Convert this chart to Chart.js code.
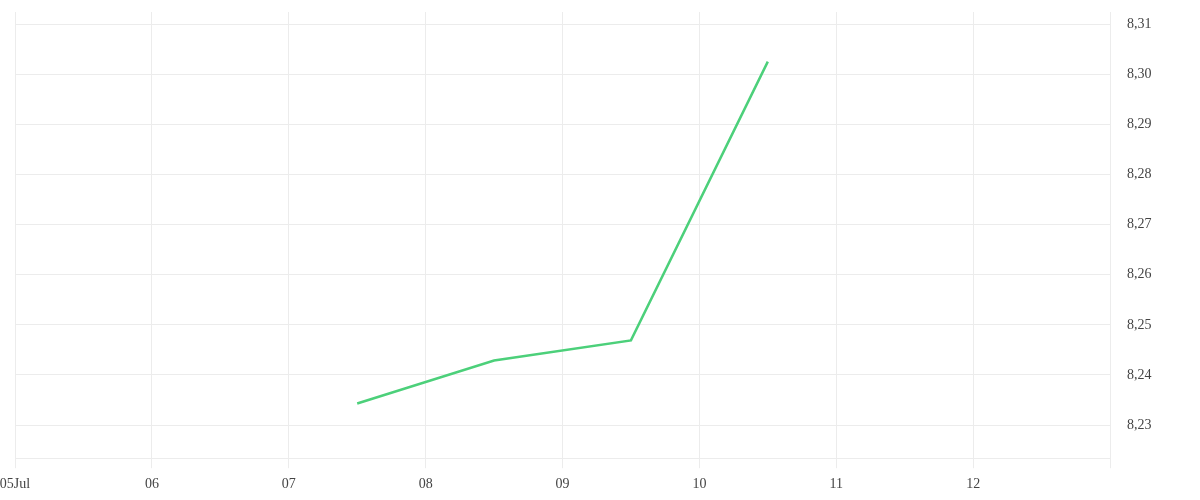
<!DOCTYPE html>
<html>
<head>
<meta charset="utf-8">
<script src="https://cdn.jsdelivr.net/npm/chart.js@4"></script>
<style>
    html, body { margin: 0; padding: 0; background: #fff; }
    #wrap { width: 1200px; height: 500px; position: relative; }
</style>
</head>
<body>
<div id="wrap"><canvas id="rateChart"></canvas></div>
<script>
// x is day of July (12:00 = .5)
const days = [7.5, 8.5, 9.5, 10.5];
const rates = [8.2343, 8.2429, 8.2469, 8.3025];
const xTicks = [5, 6, 7, 8, 9, 10, 11, 12, 13];
const xTickLabels = ['05Jul', '06', '07', '08', '09', '10', '11', '12', ''];
const yTicks = [8.23, 8.24, 8.25, 8.26, 8.27, 8.28, 8.29, 8.30, 8.31];

const gridColor = '#ececec';
const labelColor = '#444';
const font = { family: "'Liberation Serif', 'DejaVu Serif', serif", size: 14 };

document.addEventListener("DOMContentLoaded", () => {
    const ctx = document.getElementById('rateChart').getContext('2d');
    new Chart(ctx, {
        type: 'line',
        data: {
            datasets: [{
                data: days.map((d, i) => ({ x: d, y: rates[i] })),
                borderColor: 'rgb(76, 208, 122)',
                borderWidth: 2.5,
                pointRadius: 0,
                tension: 0,
                fill: false
            }]
        },
        options: {
            responsive: true,
            maintainAspectRatio: false,
            animation: false,
            layout: { padding: { top: 0, left: 0, right: 0, bottom: 0 } },
            plugins: {
                legend: { display: false },
                tooltip: { enabled: false }
            },
            scales: {
                x: {
                    type: 'linear',
                    min: 5,
                    max: 13,
                    afterBuildTicks: (scale) => {
                        scale.ticks = xTicks.map(v => ({ value: v }));
                    },
                    afterFit: (scale) => {
                        scale.paddingLeft = 15;
                        scale.height = scale.height - 1;
                    },
                    grid: { color: gridColor, tickLength: 10, drawTicks: true },
                    border: { color: gridColor },
                    ticks: {
                        color: labelColor,
                        font: font,
                        padding: 8,
                        maxRotation: 0,
                        autoSkip: false,
                        callback: (v) => xTickLabels[xTicks.indexOf(v)]
                    }
                },
                y: {
                    position: 'right',
                    min: 8.2234,
                    max: 8.3124,
                    afterBuildTicks: (scale) => {
                        scale.ticks = yTicks.map(v => ({ value: v }));
                    },
                    afterFit: (scale) => {
                        scale.width = 90;
                        scale.paddingTop = 12;
                        scale.paddingBottom = 0;
                    },
                    grid: { color: gridColor, drawTicks: false },
                    border: { color: gridColor },
                    ticks: {
                        color: labelColor,
                        font: font,
                        padding: 17,
                        callback: (v) => v.toFixed(2).replace('.', ',')
                    }
                }
            }
        }
    });
});
</script>
</body>
</html>
